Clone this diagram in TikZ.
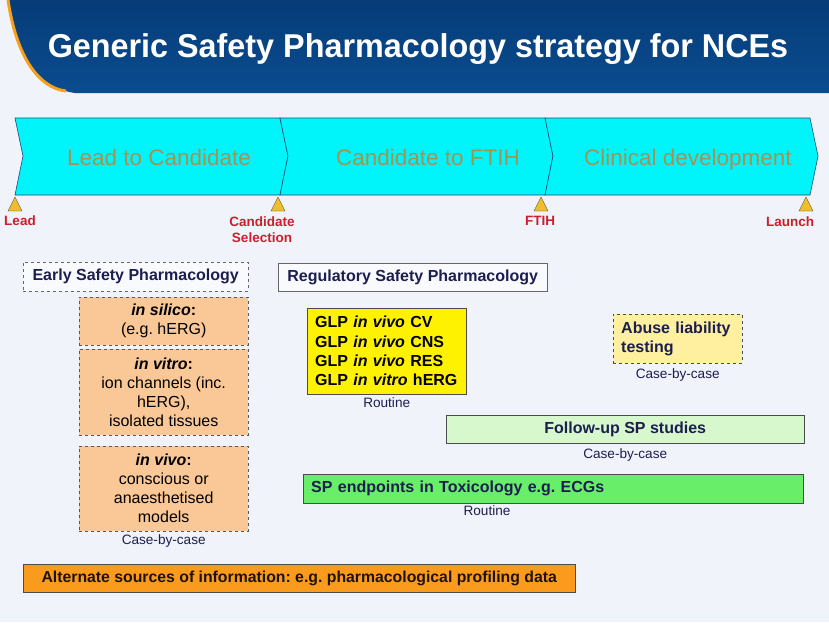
\documentclass[tikz,border=0pt]{standalone}
\usepackage{fontspec}
\setmainfont{Liberation Sans}
\usetikzlibrary{positioning}
\definecolor{pagebg}{RGB}{240,243,249}
\definecolor{hdrblue}{RGB}{10,76,143}
\definecolor{hdrdark}{RGB}{6,60,120}
\definecolor{hdrorange}{RGB}{245,160,30}
\definecolor{phasecyan}{RGB}{0,245,250}
\definecolor{phaseedge}{RGB}{30,70,120}
\definecolor{phasetext}{RGB}{160,148,85}
\definecolor{milegold}{RGB}{240,190,40}
\definecolor{milered}{RGB}{205,30,45}
\definecolor{navytext}{RGB}{28,30,80}
\definecolor{peach}{RGB}{250,200,150}
\definecolor{abuseyellow}{RGB}{255,240,160}
\definecolor{palegreen}{RGB}{215,247,205}
\definecolor{toxgreen}{RGB}{105,238,105}
\definecolor{altorange}{RGB}{250,155,30}
\frenchspacing

\begin{document}
\begin{tikzpicture}[x=1pt, y=-1pt,
  headbox/.style={draw=gray!80!black, fill=white!60!pagebg, anchor=north west,
    font=\fontsize{16}{18}\selectfont\bfseries, text=navytext},
  earlybox/.style={draw=gray!70!black, dashed, fill=peach, anchor=north west,
    align=center, minimum width=169, font=\fontsize{16}{19}\selectfont},
  studybox/.style={draw=gray!60!black, anchor=north west,
    font=\fontsize{16}{19.3}\selectfont\bfseries, text=navytext},
  caption/.style={font=\fontsize{13.6}{15}\selectfont, text=navytext, inner sep=1pt},
  milestone/.style={font=\fontsize{13.5}{16}\selectfont\bfseries, text=milered,
    align=center, inner sep=1pt},
  phase/.style={font=\fontsize{22.5}{26}\selectfont, text=phasetext, anchor=base}]
  \useasboundingbox (0,0) rectangle (829,622);
  \fill[pagebg] (0,0) rectangle (829,622);

  % Bandeau titre
  \shade[top color=hdrdark, bottom color=hdrblue]
    (8,0) .. controls (16,55) and (38,88) .. (75,93) -- (829,93) -- (829,0) -- cycle;
  \draw[hdrorange, line width=3pt]
    (8,0) .. controls (16,55) and (38,88) .. (66,91);
  \node[font=\fontsize{33}{36}\selectfont\bfseries, text=white, anchor=base] (title)
    at (418,57) {\scalebox{0.98}[1]{Generic Safety Pharmacology strategy for NCEs}};

  % Phases
  \foreach \xa/\xb/\lab/\lx/\nm in {
    15/280/{Lead to Candidate}/159/lead,
    280/545/{Candidate to FTIH}/428/ftih,
    545/810/{Clinical development}/688/clin}{
    \draw[phaseedge, fill=phasecyan, line width=0.6pt]
      (\xa,118) -- (\xb,118) -- (\xb+8,156) -- (\xb,195)
      -- (\xa,195) -- (\xa+8,156) -- cycle;
    \node[phase] (phase-\nm) at (\lx,165) {\lab};
  }

  % Jalons
  \foreach \mx in {15,278,541,806}{
    \draw[fill=milegold, draw=black!70, line width=0.4pt]
      (\mx-7,211) -- (\mx+7,211) -- (\mx,197) -- cycle;
  }
  \node[milestone] (m-lead) at (20,221) {Lead};
  \node[milestone] (m-cand) at (262,230) {Candidate\\Selection};
  \node[milestone] (m-ftih) at (540,221) {FTIH};
  \node[milestone] (m-launch) at (790,222) {Launch};

  % Early SP
  \node[headbox, dashed, minimum width=225, minimum height=29] (early)
    at (23,262) {Early Safety Pharmacology};
  \node[earlybox, minimum height=48] (silico) at (79,297)
    {\textbf{\textit{in silico}:}\\(e.g. hERG)};
  \node[earlybox, minimum height=86] (vitro) at (79,349)
    {\textbf{\textit{in vitro}:}\\ion channels (inc.\\hERG),\\isolated tissues};
  \node[earlybox, minimum height=85] (vivo) at (79,446)
    {\textbf{\textit{in vivo}:}\\conscious or\\anaesthetised\\models};
  \node[caption, below=2pt of vivo] (vivo-cap) {Case-by-case};

  % Regulatory SP
  \node[headbox, minimum width=269, minimum height=28] (reg)
    at (278,263) {Regulatory Safety Pharmacology};
  \node[studybox, fill=yellow, text=black, align=left, text width=143,
    inner xsep=8, minimum height=86] (glp) at (307,308)
    {GLP \textit{in vivo} CV\\GLP \textit{in vivo} CNS\\GLP \textit{in vivo} RES\\GLP \textit{in vitro} hERG};
  \node[caption, below=2pt of glp] (glp-cap) {Routine};

  \node[studybox, dashed, fill=abuseyellow, align=left, text width=113,
    inner xsep=8, minimum height=49] (abuse) at (613,314)
    {Abuse liability\\testing};
  \node[caption, below=4pt of abuse] (abuse-cap) {Case-by-case};

  \node[studybox, fill=palegreen, minimum width=358, minimum height=28]
    (follow) at (446,415) {Follow-up SP studies};
  \node[caption, below=4pt of follow] (follow-cap) {Case-by-case};

  \node[studybox, fill=toxgreen, align=left, text width=484, inner xsep=8,
    minimum height=29] (tox) at (303,474)
    {SP endpoints in Toxicology e.g. ECGs};
  \node[caption, below=1pt of tox.south west, xshift=184, anchor=north]
    (tox-cap) {Routine};

  % Autres sources
  \node[studybox, fill=altorange, text=black!85!brown, minimum width=552,
    minimum height=28, font=\fontsize{15.8}{18}\selectfont\bfseries]
    (alt) at (23,564)
    {Alternate sources of information: e.g. pharmacological profiling data};
\end{tikzpicture}
\end{document}
